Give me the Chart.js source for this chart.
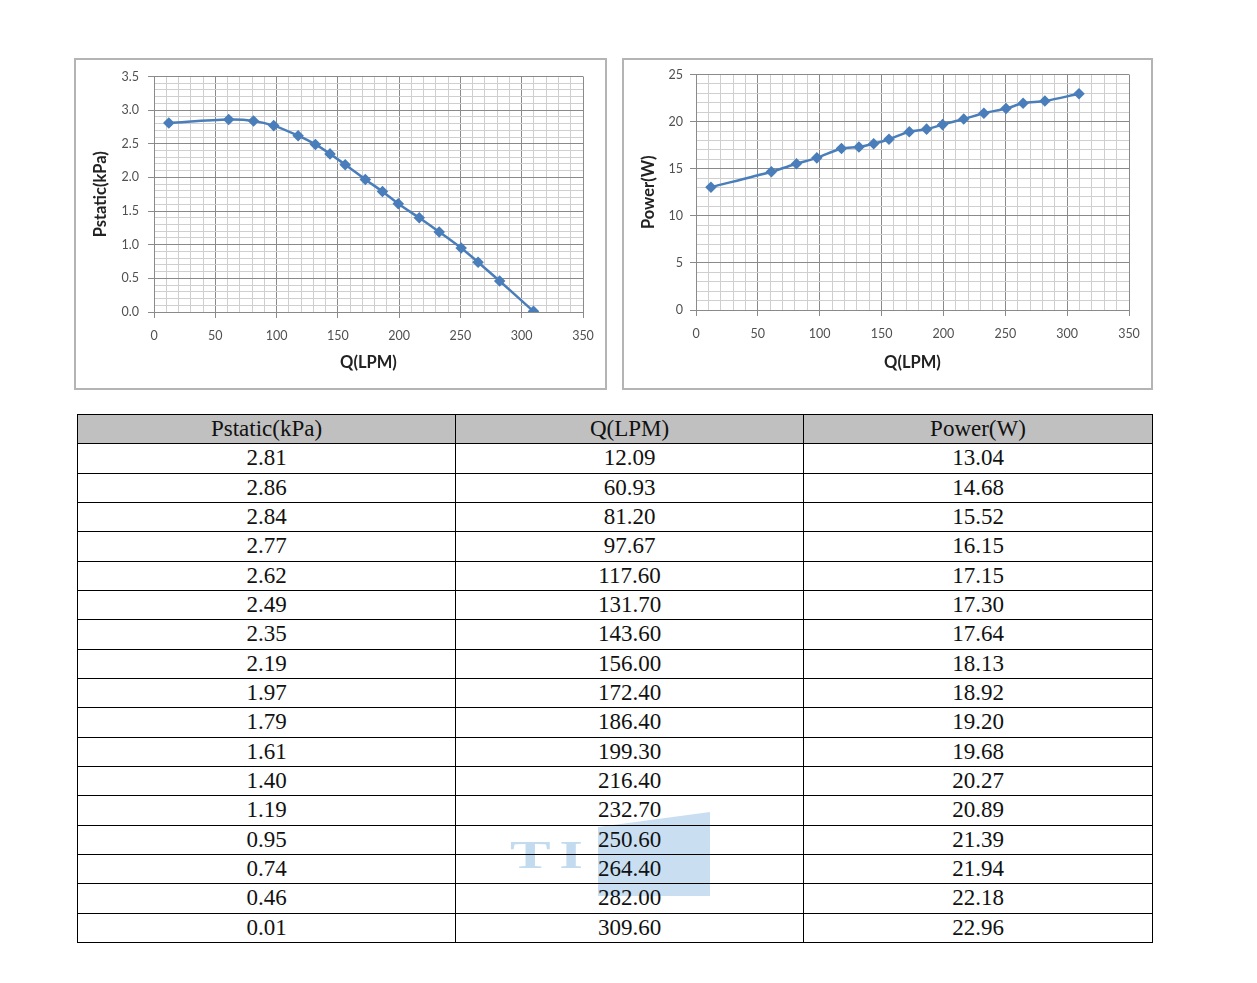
<!DOCTYPE html>
<html>
<head>
<meta charset="utf-8">
<script src="https://cdn.jsdelivr.net/npm/chart.js@4/dist/chart.umd.min.js"></script>
<style>
  html, body { margin: 0; padding: 0; background: #fff; }
  body { width: 1257px; height: 983px; position: relative; overflow: hidden; }
  .box { position: absolute; box-sizing: border-box; border: 2px solid #b4b4b4; background: #fff; }
  .box canvas { display: block; }
  #tbl { position: absolute; left: 77px; top: 414px; border-collapse: collapse; table-layout: fixed;
         font-family: "Liberation Serif", "DejaVu Serif", serif; font-size: 23px; color: #111; z-index: 1; }
  #tbl tr { height: 29.33px; }
  #tbl td, #tbl th { border: 1.5px solid #000; text-align: center; padding: 0; line-height: 26px; font-weight: normal; background: transparent; }
  #tbl th { background: #c0c0c0; }
  .wm { position: absolute; z-index: 0; pointer-events: none; }
</style>
</head>
<body>
<div class="box" id="b1" style="left:74px; top:58px; width:533px; height:332px;"><canvas id="c1"></canvas></div>
<div class="box" id="b2" style="left:622px; top:58px; width:531px; height:332px;"><canvas id="c2"></canvas></div>
<div class="wm" style="left:510px; top:832px; font: bold 42px 'Liberation Serif', serif; color: #c3dbef; letter-spacing:6px; transform: scale(1.45, 0.95); transform-origin: top left;">TI</div>
<div class="wm" style="left:598px; top:812px; width:112px; height:84px; background: #c9dff1; clip-path: polygon(0 18%, 100% 0, 100% 100%, 0 100%);"></div>
<table id="tbl"></table>
<script>
// ---- data ----
const qLPM = [12.09, 60.93, 81.20, 97.67, 117.60, 131.70, 143.60, 156.00, 172.40, 186.40, 199.30, 216.40, 232.70, 250.60, 264.40, 282.00, 309.60];
const pstatic = [2.81, 2.86, 2.84, 2.77, 2.62, 2.49, 2.35, 2.19, 1.97, 1.79, 1.61, 1.40, 1.19, 0.95, 0.74, 0.46, 0.01];
const power = [13.04, 14.68, 15.52, 16.15, 17.15, 17.30, 17.64, 18.13, 18.92, 19.20, 19.68, 20.27, 20.89, 21.39, 21.94, 22.18, 22.96];
const headers = ["Pstatic(kPa)", "Q(LPM)", "Power(W)"];

// ---- table ----
const tbl = document.getElementById('tbl');
const colW = [378, 348, 349];
let html = '<colgroup>' + colW.map(w => '<col style="width:' + w + 'px">').join('') + '</colgroup>';
html += '<tr>' + headers.map(h => '<th>' + h + '</th>').join('') + '</tr>';
for (let i = 0; i < qLPM.length; i++) {
  html += '<tr><td>' + pstatic[i].toFixed(2) + '</td><td>' + qLPM[i].toFixed(2) + '</td><td>' + power[i].toFixed(2) + '</td></tr>';
}
tbl.innerHTML = html;

// ---- charts ----
const LINE = '#4a7ebb';
const MAJ = '#8a8a8a', MIN = '#cfcfcf';
const tickFont = { family: 'Lato, "Open Sans", sans-serif', size: 12.5 };
const titleFont = { family: 'Lato, "Open Sans", sans-serif', size: 16.5, weight: 'bold' };

function makeChart(id, boxW, ys, yMax, yStep, yMajor, yDec, yTitle, L, T, R, B, yPad) {
  const cv = document.getElementById(id);
  cv.width = boxW - 4; cv.height = 328;
  cv.style.width = (boxW - 4) + 'px'; cv.style.height = '328px';
  const isMajX = v => Math.abs(v % 50) < 1e-6;
  const isMajY = v => { const r = v / yMajor; return Math.abs(r - Math.round(r)) < 1e-6; };
  new Chart(cv, {
    type: 'scatter',
    data: { datasets: [{
      data: qLPM.map((q, i) => ({ x: q, y: ys[i] })),
      showLine: true, borderColor: LINE, backgroundColor: LINE,
      borderWidth: 2.5, tension: 0.3,
      pointStyle: 'rectRot', pointRadius: 4, pointHoverRadius: 4
    }]},
    options: {
      responsive: false, animation: false,
      layout: { padding: { left: 0, top: T, right: R, bottom: 0 } },
      plugins: { legend: { display: false }, tooltip: { enabled: false } },
      scales: {
        x: {
          type: 'linear', min: 0, max: 350,
          afterFit: s => { s.height = B; },
          ticks: { stepSize: 10, autoSkip: false, maxRotation: 0, padding: 10, color: '#505050', font: tickFont,
                   callback: v => isMajX(v) ? String(Math.round(v)) : '' },
          grid: { color: c => (c.tick && isMajX(c.tick.value)) ? MAJ : MIN,
                  tickColor: c => (c.tick && isMajX(c.tick.value)) ? MAJ : 'rgba(0,0,0,0)',
                  tickLength: 6, lineWidth: 1 },
          border: { color: '#8a8a8a' },
          title: { display: true, text: 'Q(LPM)', color: '#222', font: titleFont, padding: { top: 4, bottom: 15 } }
        },
        y: {
          type: 'linear', min: 0, max: yMax,
          afterFit: s => { s.width = L; },
          ticks: { stepSize: yStep, autoSkip: false, padding: yPad, color: '#505050', font: tickFont,
                   callback: v => isMajY(v) ? v.toFixed(yDec) : '' },
          grid: { color: c => (c.tick && isMajY(c.tick.value)) ? MAJ : MIN,
                  tickColor: c => (c.tick && isMajY(c.tick.value)) ? MAJ : 'rgba(0,0,0,0)',
                  tickLength: 6, lineWidth: 1 },
          border: { color: '#8a8a8a' },
          title: { display: true, text: yTitle, color: '#222', font: titleFont, padding: { top: 15, bottom: 0 } }
        }
      }
    }
  });
}

makeChart('c1', 533, pstatic, 3.5, 0.1, 0.5, 1, 'Pstatic(kPa)', 78, 13, 22, 76, 9);
makeChart('c2', 531, power, 25, 1, 5, 0, 'Power(W)', 72, 14, 22, 78, 7);
</script>
</body>
</html>
